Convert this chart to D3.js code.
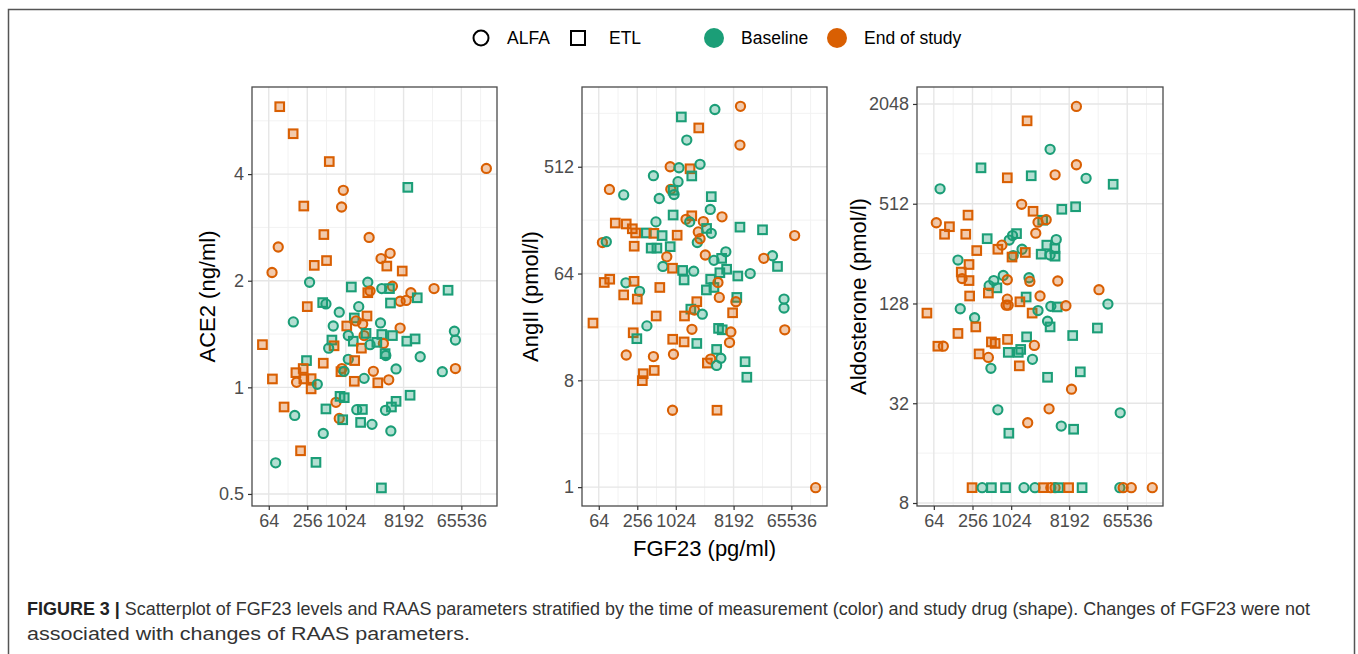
<!DOCTYPE html>
<html>
<head>
<meta charset="utf-8">
<script src="https://cdn.jsdelivr.net/npm/d3@7"></script>
<style>
  body { margin: 0; background: #fff; }
  svg { display: block; font-family: "Liberation Sans", Arial, sans-serif; }
</style>
</head>
<body>
<div id="chart"></div>
<script>
// group codes: 1st letter = time (B = Baseline, E = End of study),
//              2nd letter = study drug (A = ALFA circle, E = ETL square)
var drugs = ["ALFA", "ETL"];
var times = ["Baseline", "End of study"];
var timeColors = ["#1B9E77", "#D95F02"];

var xTicks = [64, 256, 1024, 8192, 65536];
var xMinor = [Math.pow(2, 5), Math.pow(2, 7), Math.pow(2, 9), Math.pow(2, 11.5), Math.pow(2, 14.5), Math.pow(2, 17)];

var ace2Ticks = [0.5, 1, 2, 4];
var ace2Minor = [Math.pow(2, -0.5), Math.pow(2, 0.5), Math.pow(2, 1.5), Math.pow(2, 2.5)];
var angTicks = [1, 8, 64, 512];
var angMinor = [Math.pow(2, 1.5), Math.pow(2, 4.5), Math.pow(2, 7.5), Math.pow(2, 10.5)];
var aldoTicks = [8, 32, 128, 512, 2048];
var aldoMinor = [16, 64, 256, 1024];

// [FGF23 pg/ml, ACE2 ng/ml, group]
var ace2Points = [
  [95, 6.2, "EE"], [154, 5.2, "EE"], [565, 4.34, "EE"], [161000, 4.15, "EA"], [9540, 3.67, "BE"],
  [936, 3.6, "EA"], [880, 3.23, "EA"], [226, 3.25, "EE"], [465, 2.70, "EE"], [2370, 2.65, "EA"],
  [90, 2.49, "EA"], [5040, 2.39, "EA"], [3640, 2.31, "EA"], [512, 2.28, "EE"], [329, 2.21, "EE"],
  [4480, 2.20, "EE"], [7800, 2.13, "EE"], [72, 2.11, "EA"], [278, 1.98, "BA"], [2260, 1.98, "BA"],
  [1250, 1.92, "BE"], [3740, 1.90, "BA"], [5480, 1.93, "EA"], [4930, 1.90, "BE"], [24500, 1.90, "EA"],
  [40600, 1.88, "BE"], [2450, 1.87, "EA"], [2260, 1.85, "EE"], [10650, 1.85, "EA"], [9000, 1.76, "EA"],
  [7230, 1.75, "EA"], [13400, 1.79, "BE"], [446, 1.735, "BE"], [501, 1.72, "BA"], [5110, 1.73, "BE"],
  [256, 1.69, "EE"], [1630, 1.69, "BA"], [809, 1.63, "BA"], [155, 1.53, "BA"], [1390, 1.57, "BE"],
  [2195, 1.59, "EE"], [1480, 1.54, "EA"], [3570, 1.52, "BA"], [1880, 1.51, "EA"], [1060, 1.49, "EE"],
  [652, 1.49, "BA"], [7230, 1.47, "EA"], [51000, 1.44, "BA"], [1120, 1.40, "BA"], [1340, 1.35, "BE"],
  [1980, 1.40, "EA"], [2120, 1.42, "BE"], [3740, 1.41, "BE"], [5480, 1.40, "BE"], [621, 1.36, "BE"],
  [671, 1.31, "EE"], [553, 1.29, "BA"], [1795, 1.29, "EE"], [2450, 1.32, "BA"], [3960, 1.33, "EA"],
  [3130, 1.34, "BE"], [9200, 1.35, "BE"], [12400, 1.37, "BE"], [4210, 1.245, "BE"], [4320, 1.23, "BA"],
  [14900, 1.22, "BA"], [52900, 1.36, "BA"], [52900, 1.13, "EA"], [33000, 1.107, "BA"], [6250, 1.127, "BA"],
  [2760, 1.11, "EA"], [4800, 1.05, "EA"], [3240, 1.03, "EE"], [1980, 1.06, "BA"], [1390, 1.04, "EE"],
  [1120, 1.20, "BA"], [1410, 1.19, "EE"], [890, 1.13, "EA"], [860, 1.107, "EE"], [960, 1.11, "BA"],
  [249, 1.19, "BE"], [455, 1.17, "EE"], [221, 1.13, "EE"], [170, 1.10, "EE"], [226, 1.056, "EE"],
  [294, 1.058, "EE"], [294, 0.99, "EE"], [174, 1.033, "EA"], [367, 1.02, "BA"], [73, 1.056, "EE"],
  [51, 1.32, "EE"], [111, 0.88, "EE"], [163, 0.833, "BA"], [501, 0.869, "BE"], [719, 0.907, "EA"],
  [832, 0.943, "BE"], [968, 0.935, "BE"], [1520, 0.865, "BA"], [1860, 0.866, "BE"], [809, 0.817, "EA"],
  [916, 0.81, "BE"], [1745, 0.796, "BE"], [2630, 0.786, "BA"], [4270, 0.861, "BA"], [5290, 0.88, "BE"],
  [6250, 0.913, "BE"], [10350, 0.95, "BE"], [5180, 0.753, "BA"], [455, 0.741, "BA"], [201, 0.662, "EE"],
  [82, 0.612, "BA"], [350, 0.614, "BE"], [3690, 0.52, "BE"]
];

// [FGF23 pg/ml, AngII pmol/l, group]
var angPoints = [
  [4180, 1560, "BA"], [10500, 1660, "EA"], [1250, 1350, "BE"], [2340, 1090, "EE"], [1520, 860, "BA"],
  [10300, 781, "EA"], [837, 512, "EA"], [1150, 502, "BA"], [1710, 492, "EE"], [2450, 537, "BA"],
  [1820, 428, "BE"], [458, 430, "BA"], [94, 329, "EA"], [157, 296, "BA"], [855, 330, "EA"],
  [930, 324, "BE"], [962, 298, "BA"], [1110, 383, "BA"], [564, 276, "BA"], [3670, 286, "BE"],
  [3540, 223, "BA"], [930, 200, "BE"], [1820, 197, "EE"], [1480, 184, "EA"], [1690, 175, "BA"],
  [2760, 176, "EA"], [5400, 193, "EA"], [501, 175, "BA"], [116, 171, "EE"], [172, 168, "EE"],
  [214, 153, "EE"], [241, 141, "EE"], [355, 141, "BE"], [465, 140, "EE"], [626, 134, "BE"],
  [1075, 135, "EE"], [2300, 144, "EA"], [3100, 154, "BE"], [3670, 140, "BA"], [10300, 158, "BE"],
  [23200, 150, "BE"], [73700, 134, "EA"], [73, 117, "EA"], [84, 119, "BA"], [229, 109, "EE"],
  [422, 105, "BE"], [519, 105, "BE"], [837, 108, "BE"], [2220, 117, "BA"], [2450, 126, "EA"],
  [740, 88.6, "EA"], [2960, 91.8, "EA"], [6200, 97.7, "BA"], [5330, 86, "BE"], [4040, 82.7, "BA"],
  [33200, 90.5, "BA"], [24300, 86, "EA"], [39800, 73.5, "BE"], [644, 73.5, "BA"], [910, 71, "EE"],
  [1310, 68, "BE"], [1950, 67, "BA"], [1380, 56.5, "BE"], [5000, 65, "BE"], [6380, 69.6, "BE"],
  [9540, 61, "BE"], [14900, 64, "BA"], [78, 53.8, "EE"], [95, 57.3, "EE"], [170, 53.4, "BA"],
  [228, 55, "EE"], [278, 45.3, "BA"], [157, 42.2, "EE"], [256, 38.9, "EE"], [576, 48.8, "EE"],
  [3590, 57.3, "BE"], [4040, 48.8, "BE"], [3080, 46.5, "BE"], [4670, 53.8, "EA"], [4900, 40.2, "EA"],
  [9200, 40.2, "BE"], [8900, 37, "EA"], [50300, 38.9, "BA"], [50300, 32.7, "BA"], [2180, 37, "EE"],
  [1760, 32, "BE"], [2000, 31.4, "EA"], [2660, 29, "BA"], [7910, 29.8, "EE"], [505, 28, "EE"],
  [1400, 28, "EE"], [52, 24.4, "EE"], [362, 23.1, "BA"], [221, 20.2, "EE"], [252, 18.0, "BE"],
  [1830, 21.6, "EA"], [4770, 22.0, "BE"], [5440, 21.4, "BE"], [7430, 20.5, "EA"], [51700, 21.4, "EA"],
  [7080, 16.7, "EA"], [916, 17.8, "EE"], [1380, 16.9, "EE"], [2180, 16.4, "BE"], [172, 13.1, "EA"],
  [458, 12.7, "EA"], [942, 13.3, "EA"], [4450, 14.6, "BE"], [5180, 12.3, "BA"], [3590, 12.1, "EA"],
  [3190, 11.2, "EE"], [4450, 10.7, "BA"], [12400, 11.5, "BE"], [13200, 8.5, "BE"], [317, 9.1, "EE"],
  [307, 7.95, "EE"], [471, 9.7, "EE"], [910, 4.47, "EA"], [4510, 4.47, "EE"], [157000, 0.99, "EA"]
];

// [FGF23 pg/ml, Aldosterone pmol/l, group]
var aldoPoints = [
  [10600, 1980, "EA"], [1810, 1620, "EE"], [4130, 1090, "BA"], [10600, 880, "EA"], [347, 843, "BE"],
  [4940, 765, "EA"], [2100, 755, "BE"], [891, 734, "EE"], [15000, 729, "BA"], [80, 630, "BA"],
  [39600, 671, "BE"], [1490, 508, "EA"], [10300, 491, "BE"], [6290, 474, "BE"], [2240, 461, "EE"],
  [218, 437, "EE"], [70, 393, "EA"], [112, 372, "EE"], [94, 335, "EE"], [201, 335, "EE"],
  [3170, 407, "BE"], [3590, 410, "EA"], [2680, 396, "EA"], [2470, 340, "EA"], [433, 315, "BE"],
  [1240, 338, "BE"], [1075, 329, "BA"], [955, 309, "BA"], [5150, 311, "BA"], [3670, 288, "BE"],
  [4900, 274, "BE"], [734, 288, "EA"], [635, 272, "EE"], [298, 267, "EE"], [1510, 272, "BA"],
  [1700, 260, "EE"], [1100, 249, "BA"], [1055, 244, "EE"], [3000, 254, "BE"], [4130, 251, "BA"],
  [4940, 247, "BE"], [152, 234, "BA"], [226, 220, "EE"], [171, 198, "EE"], [176, 181, "EA"],
  [226, 176, "EE"], [771, 189, "BA"], [549, 176, "BA"], [465, 164, "BA"], [613, 159, "BE"],
  [891, 178, "EA"], [1940, 183, "BA"], [2000, 174, "EA"], [5440, 175, "EA"], [23800, 155, "EA"],
  [231, 142, "EE"], [452, 148, "EE"], [891, 136, "EA"], [2880, 142, "EA"], [1750, 140, "BE"],
  [1400, 131, "EE"], [855, 125, "EA"], [920, 125, "EA"], [2170, 112, "EE"], [2680, 116, "BA"],
  [5330, 122, "BE"], [4240, 123, "BA"], [7280, 124, "EA"], [32800, 127, "BA"], [50, 112, "EE"],
  [165, 119, "BA"], [276, 105, "BA"], [3770, 100, "BA"], [4130, 92.4, "BE"], [288, 92.4, "EE"],
  [152, 84.4, "EE"], [9280, 82, "BE"], [22500, 91, "BE"], [1780, 80.5, "BE"], [74, 70.7, "EE"],
  [90, 70.7, "EA"], [504, 75, "EE"], [576, 73.5, "EE"], [898, 77.7, "EE"], [2350, 71.5, "EA"],
  [923, 64.9, "BE"], [1320, 64.9, "BE"], [1440, 67.6, "BE"], [324, 63.5, "EE"], [452, 60.5, "EA"],
  [2195, 58.9, "BA"], [495, 52, "BA"], [1370, 53.8, "EE"], [3770, 45.9, "BE"], [12200, 49.5, "BE"],
  [8900, 38.9, "EA"], [635, 29.2, "BA"], [3980, 29.6, "EA"], [51000, 28, "BA"], [1850, 24.4, "EA"],
  [6160, 23.3, "BA"], [9600, 22.3, "BE"], [942, 21.1, "BE"],
  [252, 9.9, "EE"], [362, 9.9, "BA"], [504, 9.9, "BE"], [837, 9.9, "BE"], [1620, 9.9, "BA"],
  [2400, 9.9, "BA"], [3260, 9.9, "EE"], [4240, 9.9, "EA"], [4940, 9.9, "EA"], [5590, 9.9, "BE"],
  [8020, 9.9, "EE"], [13000, 9.9, "BE"], [50300, 9.9, "BA"], [56700, 9.9, "EA"], [75800, 9.9, "EA"],
  [161000, 9.9, "EA"]
];

var W = 1358, H = 654;
var plotTop = 87, plotBottom = 506;
var xDomain = [Math.pow(2, 5.13), Math.pow(2, 17.85)];

var panels = [
  { title: "ACE2 (ng/ml)", data: ace2Points, ticks: ace2Ticks, minor: ace2Minor,
    yDomain: [Math.pow(2, -1.113), Math.pow(2, 2.817)], left: 252, right: 497, titleX: 207 },
  { title: "AngII (pmol/l)", data: angPoints, ticks: angTicks, minor: angMinor,
    yDomain: [Math.pow(2, -0.53), Math.pow(2, 11.24)], left: 582, right: 827, titleX: 530 },
  { title: "Aldosterone (pmol/l)", data: aldoPoints, ticks: aldoTicks, minor: aldoMinor,
    yDomain: [Math.pow(2, 2.94), Math.pow(2, 11.34)], left: 917, right: 1163, titleX: 858 }
];

var svg = d3.select("#chart").append("svg").attr("width", W).attr("height", H);
svg.append("rect").attr("width", W).attr("height", H).attr("fill", "#fff");

// figure frame (open at the bottom)
svg.append("path")
  .attr("d", "M8.5," + H + "V9.5H1354.5V" + H)
  .attr("fill", "none").attr("stroke", "#555").attr("stroke-width", 1.5);

function colorOf(code) { return timeColors[code[0] == "B" ? 0 : 1]; }

panels.forEach(function (p) {
  var x = d3.scaleLog().base(2).domain(xDomain).range([p.left, p.right]);
  var y = d3.scaleLog().base(2).domain(p.yDomain).range([plotBottom, plotTop]);
  var g = svg.append("g");

  g.append("rect").attr("x", p.left).attr("y", plotTop)
    .attr("width", p.right - p.left).attr("height", plotBottom - plotTop).attr("fill", "#fff");

  // minor grid
  g.selectAll(".xm").data(xMinor.filter(function (v) { return x(v) > p.left + 1 && x(v) < p.right - 1; }))
    .join("line").attr("class", "xm")
    .attr("x1", function (d) { return x(d); }).attr("x2", function (d) { return x(d); })
    .attr("y1", plotTop).attr("y2", plotBottom)
    .attr("stroke", "#f2f2f2").attr("stroke-width", 1);
  g.selectAll(".ym").data(p.minor.filter(function (v) { return y(v) > plotTop + 1 && y(v) < plotBottom - 1; }))
    .join("line").attr("class", "ym")
    .attr("y1", function (d) { return y(d); }).attr("y2", function (d) { return y(d); })
    .attr("x1", p.left).attr("x2", p.right)
    .attr("stroke", "#f2f2f2").attr("stroke-width", 1);

  // major grid
  g.selectAll(".xg").data(xTicks).join("line").attr("class", "xg")
    .attr("x1", function (d) { return x(d); }).attr("x2", function (d) { return x(d); })
    .attr("y1", plotTop).attr("y2", plotBottom)
    .attr("stroke", "#e6e6e6").attr("stroke-width", 1.4);
  g.selectAll(".yg").data(p.ticks).join("line").attr("class", "yg")
    .attr("y1", function (d) { return y(d); }).attr("y2", function (d) { return y(d); })
    .attr("x1", p.left).attr("x2", p.right)
    .attr("stroke", "#e6e6e6").attr("stroke-width", 1.4);

  // points
  var pts = g.selectAll(".pt").data(p.data).join(function (enter) {
    return enter.append(function (d) {
      return document.createElementNS("http://www.w3.org/2000/svg", d[2][1] == "A" ? "circle" : "rect");
    });
  });
  pts.attr("fill", function (d) { return colorOf(d[2]); })
    .attr("fill-opacity", 0.33)
    .attr("stroke", function (d) { return colorOf(d[2]); })
    .attr("stroke-width", 2.1);
  pts.filter(function (d) { return d[2][1] == "A"; })
    .attr("cx", function (d) { return x(d[0]); })
    .attr("cy", function (d) { return y(d[1]); })
    .attr("r", 4.6);
  pts.filter(function (d) { return d[2][1] == "E"; })
    .attr("x", function (d) { return x(d[0]) - 4.3; })
    .attr("y", function (d) { return y(d[1]) - 4.3; })
    .attr("width", 8.6).attr("height", 8.6);

  // panel border
  g.append("rect").attr("x", p.left).attr("y", plotTop)
    .attr("width", p.right - p.left).attr("height", plotBottom - plotTop)
    .attr("fill", "none").attr("stroke", "#4a4a4a").attr("stroke-width", 1.3);

  // axes
  var xAxis = g.append("g").attr("transform", "translate(0," + plotBottom + ")")
    .call(d3.axisBottom(x).tickValues(xTicks).tickFormat(d3.format("d")).tickSize(4).tickPadding(4));
  var yAxis = g.append("g").attr("transform", "translate(" + p.left + ",0)")
    .call(d3.axisLeft(y).tickValues(p.ticks).tickFormat(function (d) { return String(d); }).tickSize(4).tickPadding(4));
  [xAxis, yAxis].forEach(function (a) {
    a.select(".domain").remove();
    a.selectAll(".tick line").attr("stroke", "#333").attr("stroke-width", 1.2);
    a.selectAll(".tick text").attr("fill", "#4d4d4d")
      .style("font-size", "18px").style("font-family", "Liberation Sans, Arial, sans-serif");
  });

  // y title
  svg.append("text")
    .attr("transform", "translate(" + p.titleX + "," + ((plotTop + plotBottom) / 2) + ") rotate(-90)")
    .attr("text-anchor", "middle").attr("dy", "0.35em")
    .style("font-size", "22px").attr("fill", "#000")
    .text(p.title);
});

// x title
svg.append("text")
  .attr("x", (panels[1].left + panels[1].right) / 2).attr("y", 556)
  .attr("text-anchor", "middle").style("font-size", "22px").attr("fill", "#000")
  .text("FGF23 (pg/ml)");

// legend
var lg = svg.append("g");
lg.append("circle").attr("cx", 481).attr("cy", 38).attr("r", 7.5)
  .attr("fill", "none").attr("stroke", "#000").attr("stroke-width", 2);
lg.append("text").attr("x", 507).attr("y", 44).style("font-size", "17.5px").text(drugs[0]);
lg.append("rect").attr("x", 571).attr("y", 31).attr("width", 14).attr("height", 14)
  .attr("fill", "none").attr("stroke", "#000").attr("stroke-width", 2);
lg.append("text").attr("x", 609).attr("y", 44).style("font-size", "17.5px").text(drugs[1]);
lg.append("circle").attr("cx", 714).attr("cy", 38).attr("r", 10).attr("fill", timeColors[0]);
lg.append("text").attr("x", 741).attr("y", 44).style("font-size", "17.5px").text(times[0]);
lg.append("circle").attr("cx", 837).attr("cy", 38).attr("r", 10).attr("fill", timeColors[1]);
lg.append("text").attr("x", 864).attr("y", 44).style("font-size", "17.5px").text(times[1]);

// caption
var cap1 = svg.append("text").attr("x", 27).attr("y", 615)
  .style("font-size", "17.5px").attr("fill", "#333")
  .attr("textLength", 1283).attr("lengthAdjust", "spacingAndGlyphs");
cap1.append("tspan").style("font-weight", "bold").attr("fill", "#222").text("FIGURE 3 | ");
cap1.append("tspan").text("Scatterplot of FGF23 levels and RAAS parameters stratified by the time of measurement (color) and study drug (shape). Changes of FGF23 were not");
svg.append("text").attr("x", 27).attr("y", 640)
  .style("font-size", "17.5px").attr("fill", "#333")
  .attr("textLength", 443).attr("lengthAdjust", "spacingAndGlyphs")
  .text("associated with changes of RAAS parameters.");
</script>
</body>
</html>
